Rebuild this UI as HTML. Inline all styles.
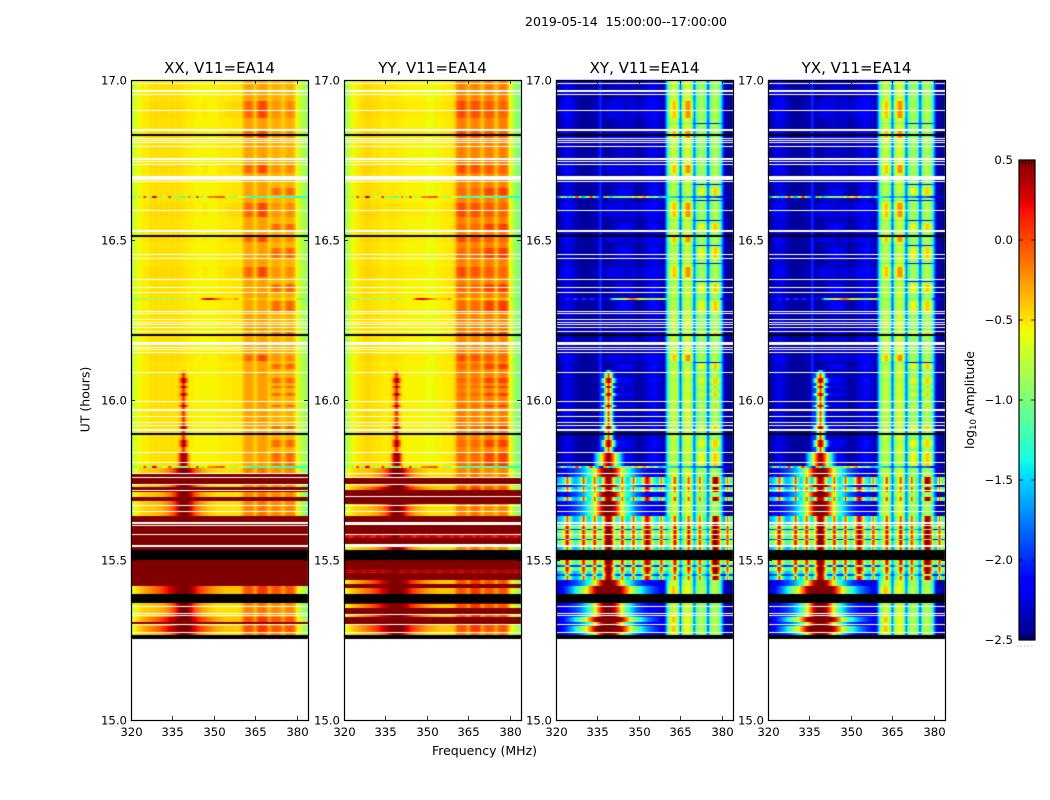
<!DOCTYPE html>
<html lang="en">
<head>
<meta charset="utf-8">
<title>2019-05-14 V11=EA14 dynamic spectra</title>
<style>
html,body{margin:0;padding:0;background:#fff;}
#figure{position:relative;width:1050px;height:800px;background:#fff;overflow:hidden;font-family:"DejaVu Sans","Liberation Sans",sans-serif;}
canvas{position:absolute;display:block;}
#overlay{position:absolute;left:0;top:0;}
#overlay text{font-family:"DejaVu Sans","Liberation Sans",sans-serif;fill:#000;}
</style>
</head>
<body>
<div id="figure">
<canvas id="heatmap-canvas" width="1050" height="800" style="left:0;top:0"></canvas>
<svg id="overlay" width="1050" height="800" xmlns="http://www.w3.org/2000/svg">
<text x="626" y="26" font-size="12.5" text-anchor="middle" xml:space="preserve">2019-05-14  15:00:00--17:00:00</text>
<text x="484.5" y="755" font-size="12.5" text-anchor="middle">Frequency (MHz)</text>
<text x="0" y="0" transform="translate(89.5,399.5) rotate(-90)" font-size="12.5" text-anchor="middle">UT (hours)</text>
<text x="0" y="0" transform="translate(974,400) rotate(-90)" font-size="12.5" text-anchor="middle">log<tspan font-size="8.5" dy="2">10</tspan><tspan dy="-2"> Amplitude</tspan></text>
</svg>
</div>
<script>
/* ---------- data: axes ---------- */
const panelTitles = ["XX, V11=EA14", "YY, V11=EA14", "XY, V11=EA14", "YX, V11=EA14"];
const freqTicks = [320, 335, 350, 365, 380];
const timeTicks = [15.0, 15.5, 16.0, 16.5, 17.0];
const colorTicks = [-2.5, -2.0, -1.5, -1.0, -0.5, 0.0, 0.5];
const freqBins = [320,321,322,323,324,325,326,327,328,329,330,331,332,333,334,335,336,337,338,339,340,341,342,343,344,345,346,347,348,349,350,351,352,353,354,355,356,357,358,359,360,361,362,363,364,365,366,367,368,369,370,371,372,373,374,375,376,377,378,379,380,381,382,383];

/* ---------- data: log10 amplitude spectra, one value per frequency bin ---------- */
const xxQuiet = [
-.8,-.72,-.62,-.57,-.54,-.52,-.54,-.48,-.5,-.47,
-.5,-.47,-.5,-.47,-.5,-.47,-.5,-.47,-.5,-.5,
-.52,-.52,-.52,-.55,-.55,-.55,-.55,-.55,-.55,-.55,
-.55,-.55,-.52,-.52,-.52,-.52,-.52,-.5,-.5,-.5,
-.5,-.33,-.28,-.28,-.32,-.45,-.3,-.28,-.26,-.3,
-.45,-.36,-.32,-.32,-.36,-.43,-.36,-.32,-.32,-.38,
-.62,-.7,-.78,-.88];
const xxBlobA = [
-.8,-.72,-.62,-.57,-.54,-.5,-.52,-.46,-.48,-.45,
-.48,-.45,-.48,-.45,-.48,-.45,-.48,-.45,-.48,-.48,
-.5,-.5,-.5,-.52,-.55,-.55,-.52,-.5,-.55,-.55,
-.55,-.55,-.5,-.5,-.5,-.48,-.46,-.46,-.46,-.46,
-.46,-.2,-.1,-.08,-.2,-.42,-.08,.02,.03,-.08,
-.42,-.28,-.24,-.24,-.3,-.42,-.28,-.2,-.2,-.3,
-.6,-.7,-.78,-.88];
const xxBlobB = [
-.8,-.72,-.62,-.57,-.54,-.52,-.54,-.48,-.5,-.47,
-.5,-.47,-.5,-.47,-.5,-.47,-.5,-.47,-.5,-.5,
-.52,-.52,-.52,-.55,-.55,-.55,-.55,-.55,-.55,-.55,
-.55,-.55,-.52,-.52,-.52,-.52,-.52,-.5,-.5,-.5,
-.5,-.32,-.28,-.28,-.32,-.46,-.3,-.26,-.26,-.3,
-.44,-.2,-.1,-.1,-.2,-.42,-.2,-.08,-.08,-.22,
-.6,-.7,-.78,-.88];
const xxStreak = [
-.9,-1.1,-.6,-.95,-.8,.3,-.9,-1,.45,.3,
-1,-.9,-.5,-.95,.3,-.8,-.95,-.85,-1.1,-1.1,
-1,0,-1,-.9,.3,-1,-.9,-.7,-.25,-.1,
-.2,0,-.1,.1,-.3,-.7,-.9,-.8,-1,-.5,
-.6,-.9,-1.1,-1.2,-1.25,-1.25,-1.2,-1.2,-1.15,-1.1,
-1,-1.1,-1.1,-1.2,-1.2,-1.2,-1.25,-1.3,-1.3,-1.3,
-1.3,-1.3,-1.3,-1.3];
const xxStreakLate = [
-.8,-.9,-.9,-.85,-.85,-.85,-.8,-.85,-.85,-.8,
-.85,-.85,-.8,-.85,-.8,-.8,-.85,-.4,-.8,-.8,
-.8,-.75,-.7,-.65,-.55,-.45,.05,.2,.3,.25,
.1,-.05,-.2,-.3,-.4,-.45,-.4,-.45,-.1,-.5,
-.55,-.35,-.35,-.4,-.45,-.6,-.4,-.35,-.35,-.4,
-.6,-.45,-.4,-.4,-.45,-.6,-.4,-.4,-.4,-.45,
-.8,-.9,-1,-1.1];
const yyQuiet = [
-.95,-.85,-.7,-.6,-.55,-.52,-.5,-.48,-.46,-.46,
-.48,-.5,-.48,-.5,-.52,-.52,-.52,-.5,-.5,-.52,
-.52,-.52,-.55,-.55,-.55,-.55,-.55,-.55,-.55,-.55,
-.58,-.58,-.62,-.55,-.55,-.55,-.52,-.52,-.52,-.5,
-.45,-.22,-.16,-.16,-.22,-.38,-.22,-.18,-.18,-.24,
-.42,-.22,-.16,-.16,-.24,-.42,-.24,-.16,-.16,-.24,
-.6,-.75,-.9,-1];
const yyBlobA = [
-.95,-.85,-.7,-.6,-.55,-.52,-.48,-.46,-.44,-.44,
-.46,-.48,-.46,-.48,-.5,-.5,-.5,-.48,-.48,-.5,
-.5,-.5,-.52,-.52,-.52,-.52,-.52,-.52,-.52,-.52,
-.55,-.55,-.6,-.52,-.52,-.52,-.5,-.5,-.5,-.48,
-.42,-.08,0,.02,-.08,-.34,-.08,-.02,-.02,-.1,
-.36,-.1,-.05,-.05,-.12,-.38,-.15,-.08,-.08,-.15,
-.58,-.72,-.9,-1];
const yyBlobB = [
-.95,-.85,-.7,-.6,-.55,-.52,-.5,-.48,-.46,-.46,
-.48,-.5,-.48,-.5,-.52,-.52,-.52,-.5,-.5,-.52,
-.52,-.52,-.55,-.55,-.55,-.55,-.55,-.55,-.55,-.55,
-.58,-.58,-.62,-.55,-.55,-.55,-.52,-.52,-.52,-.5,
-.45,-.15,-.1,-.1,-.15,-.36,-.15,-.1,-.1,-.15,
-.38,-.05,.03,.03,-.05,-.38,-.05,.05,.05,-.05,
-.58,-.72,-.9,-1];
const parallelFlare = [
-.85,-.7,-.55,-.5,-.45,-.42,-.42,-.4,-.4,-.38,
-.36,-.32,-.28,-.22,-.15,-.05,.1,.3,.5,.5,
.5,.4,.2,0,-.12,-.22,-.3,-.35,-.4,-.42,
-.45,-.48,-.48,-.48,-.48,-.48,-.48,-.48,-.48,-.48,
-.42,-.22,-.18,-.18,-.22,-.4,-.18,-.12,-.12,-.22,
-.4,-.22,-.2,-.2,-.25,-.4,-.22,-.18,-.18,-.25,
-.55,-.7,-.85,-.95];
const parallelFlareBright = [
-.8,-.6,-.48,-.42,-.36,-.3,-.25,-.2,-.15,-.1,
-.05,.02,.1,.18,.28,.35,.42,.5,.5,.5,
.5,.5,.4,.28,.15,.05,-.02,-.08,-.14,-.2,
-.25,-.3,-.32,-.35,-.38,-.4,-.4,-.4,-.4,-.4,
-.34,-.08,-.02,-.02,-.08,-.28,.02,.08,.08,.02,
-.28,-.08,-.02,-.02,-.08,-.28,-.08,-.02,-.02,-.12,
-.45,-.6,-.75,-.85];
const saturated = [
.5,.5,.5,.5,.5,.5,.5,.5,.5,.5,
.5,.5,.5,.5,.5,.5,.5,.5,.5,.5,
.5,.5,.5,.5,.5,.5,.5,.5,.5,.5,
.5,.5,.5,.5,.5,.5,.5,.5,.5,.5,
.5,.5,.5,.5,.5,.5,.5,.5,.5,.5,
.5,.5,.5,.5,.5,.5,.5,.5,.5,.5,
.5,.5,.5,.5];
const redStripe = [
.3,.3,.15,.15,.3,.3,.3,.15,.3,.3,
.15,.15,.3,.3,.15,.3,.3,.3,.5,.5,
.3,.15,.3,.3,.3,.15,.15,.3,.3,.3,
.15,.3,.3,.3,.15,.15,.3,.3,.3,.15,
.3,.3,.15,.15,.3,.3,.3,.15,.3,.3,
.15,.3,.3,.3,.15,.15,.3,.3,.3,.15,
.3,.3,.15,.3];
const xyQuiet = [
-2.45,-2.42,-2.35,-2.25,-2.2,-2.25,-2.3,-2.35,-2.4,-2.42,
-2.42,-2.42,-2.42,-2.4,-2.4,-2.42,-1.95,-2.42,-2.4,-2.4,
-2.4,-2.3,-2.35,-2.3,-2.3,-2.3,-2.35,-2.3,-2.3,-2.4,
-2.4,-2.4,-2.3,-2.3,-2.25,-2.2,-2.2,-2.3,-2.3,-2.42,
-1.6,-.95,-.75,-.72,-.85,-1.85,-.85,-.68,-.68,-.82,
-1.85,-1.05,-.88,-.88,-1,-1.95,-1,-.82,-.82,-1,
-1.6,-2.35,-2.42,-2.45];
const xyBlobA = [
-2.42,-2.38,-2.25,-2.15,-2.1,-2.15,-2.2,-2.32,-2.38,-2.42,
-2.42,-2.42,-2.4,-2.38,-2.32,-2.38,-1.95,-2.38,-2.3,-2.22,
-2.22,-2.22,-2.25,-2.22,-2.25,-2.28,-2.32,-2.25,-2.22,-2.3,
-2.3,-2.3,-2.2,-2.2,-2.15,-2.12,-2.12,-2.2,-2.25,-2.38,
-1.6,-.9,-.5,-.35,-.7,-1.8,-.7,-.3,-.15,-.55,
-1.8,-1.05,-.85,-.85,-1,-1.9,-1,-.8,-.8,-1,
-1.6,-2.35,-2.42,-2.45];
const xyBlobB = [
-2.45,-2.42,-2.35,-2.25,-2.2,-2.25,-2.3,-2.35,-2.4,-2.42,
-2.42,-2.42,-2.42,-2.4,-2.4,-2.42,-1.95,-2.42,-2.4,-2.4,
-2.4,-2.3,-2.3,-2.15,-2.12,-2.12,-2.2,-2.2,-2.3,-2.4,
-2.4,-2.4,-2.3,-2.3,-2.15,-2.1,-2.1,-2.2,-2.3,-2.42,
-1.6,-.95,-.8,-.8,-.9,-1.9,-.9,-.75,-.75,-.9,
-1.9,-.9,-.6,-.55,-.85,-1.9,-.8,-.45,-.4,-.75,
-1.6,-2.35,-2.42,-2.45];
const xyDip = [
-2.45,-2.42,-2.35,-2.25,-2.2,-2.25,-2.3,-2.35,-2.4,-2.42,
-2.42,-2.42,-2.42,-2.4,-2.4,-2.42,-1.95,-2.42,-2.4,-2.4,
-2.4,-2.3,-2.35,-2.3,-2.3,-2.3,-2.35,-2.3,-2.3,-2.4,
-2.4,-2.4,-2.3,-2.3,-2.25,-2.2,-2.2,-2.3,-2.3,-2.42,
-1.6,-1.2,-1.05,-1.05,-1.2,-2,-1.2,-1,-1,-1.2,
-2.1,-2,-2.1,-2.1,-2,-2.2,-2,-2.1,-2.1,-2,
-1.8,-2.35,-2.42,-2.45];
const xyStreak = [
-1.5,-1.8,-1.2,-.2,-1.6,-1.3,-1.5,-.1,.1,-1.4,
-1.6,-1.2,-.2,.2,-1.4,-1.5,-2,-2.1,.1,-1.3,
-1.6,-1.2,-1.1,-.9,-1,-1,-.9,-1.1,-.6,-.3,
-.6,-.5,-.2,-.6,-1,-1.2,-.5,-1.4,-1.6,-1.3,
-1.5,-1.4,-1.5,-1.5,-1.6,-2,-1.5,-1.5,-1.5,-1.6,
-2,-1.6,-1.7,-1.7,-1.8,-2.1,-1.8,-1.8,-1.9,-2,
-2.3,-2.3,-2.1,-2.3];
const xyStreakLate = [
-2.3,-2.2,-2.1,-2.2,-2,-2.1,-2.2,-1.8,-2.2,-2.2,
-1.9,-2.1,-2.2,-1.9,-2.2,-2.2,-1.9,-2.2,-2.2,-2.3,
-1.6,-1.2,-1,-.9,-.8,-.6,-.4,-.2,-.1,-.3,
-.5,-.7,-.8,-.9,-.9,-.9,-.9,-.9,-.3,-1,
-1.2,-1.1,-1,-1,-1.1,-1.9,-1,-.9,-.9,-1,
-1.9,-1.1,-1,-1,-1.1,-2,-1,-1,-1,-1.1,
-2.3,-2.3,-2.1,-2.3];
const xyFlare = [
-2.35,-2.3,-2.2,-2.15,-2.1,-2.05,-2,-1.95,-1.85,-1.75,
-1.6,-1.45,-1.25,-1,-.7,-.3,.1,.4,.5,.5,
.5,.4,.1,-.3,-.7,-1,-1.25,-1.45,-1.6,-1.8,
-1.9,-2,-2.05,-2.1,-2.15,-2.2,-2.2,-2.25,-2.25,-2.3,
-1.6,-.95,-.75,-.72,-.85,-1.85,-.85,-.68,-.68,-.82,
-1.85,-1.05,-.88,-.88,-1,-1.95,-1,-.82,-.82,-1,
-1.6,-2.35,-2.4,-2.45];
const xyFlareBright = [
-2.3,-2.25,-2.15,-2.05,-1.9,-1.75,-1.6,-1.4,-1.2,-1,
-.8,-.6,-.3,0,.3,.5,.5,.5,.5,.5,
.5,.5,.5,.5,.3,0,-.3,-.6,-.85,-1.05,
-1.25,-1.4,-1.55,-1.7,-1.8,-1.9,-2,-2.05,-2.15,-2.25,
-1.6,-.7,-.4,-.4,-.7,-1.8,-.7,-.6,-.6,-.8,
-1.8,-.9,-.8,-.8,-1,-1.9,-.9,-.8,-.8,-1,
-1.6,-2.3,-2.35,-2.4];
const xyCombThin = [
-1.7,-1.6,-1.5,-1.3,.1,-.8,-1.5,-1.6,-1.5,-1.2,
.2,-1.3,-1.5,-1.1,.1,-1.2,-1.5,-.8,.2,.5,
.2,-.8,-1.4,-1.2,.1,-1.3,-1.5,-1.3,.1,-1.2,
-1.4,-1.1,-.2,.4,-.2,-1.1,-1.4,-1.5,0,-1.3,
-1.5,-1.3,-.8,.2,-1,-1.8,-1.2,-.8,.1,-.9,
-1.8,-1.1,.1,-1,-1.2,-1.8,-.8,.4,.5,-.2,
-1.5,-1.6,-.1,-1.2];
const xyCombWide = [
-1.3,-1.1,-.9,-.6,.4,-.5,-1,-1.2,-1.1,-.6,
.3,-.7,-1,-.7,.3,-.7,-1,-.6,.4,.5,
.4,-.6,-1,-.7,.3,-.7,-1.2,-.9,.2,-.8,
-1.2,-.8,0,.5,.1,-.8,-1.2,-1,.2,-.6,
-1.2,-1,-.6,.4,-.6,-1.6,-1,-.6,.4,-.6,
-1.6,-.9,.2,-.8,-1,-1.7,-.4,.5,.5,0,
-1.1,-1,.1,-.9];
const xyCombDark = [
-2,-2,-1.9,-1.8,-.8,-1.7,-2,-2,-1.9,-1.8,
-.7,-1.8,-2,-1.8,-.7,-1.8,-2,-1.3,.1,.5,
.1,-1.3,-2,-1.9,-.9,-1.9,-2.1,-2,-.9,-1.9,
-2,-1.8,-1,-.4,-1,-1.8,-2,-2,-1,-1.9,
-2,-1.4,-1.2,-.7,-1.3,-2.1,-1.4,-1.2,-.8,-1.4,
-2.1,-1.5,-.9,-1.5,-1.6,-2.1,-1.3,-.5,-.4,-1.2,
-2.2,-2.2,-1.2,-2];

/* ---------- data: spike profile around the 339 MHz tone ---------- */
const spikeFreqs = [334, 335, 336, 337, 338, 339, 340, 341, 342, 343, 344];
const parallelToneLevels = [-9, -9, -9, -9, -.35, .15, -.4, -9, -9, -9, -9];
const parallelToneStrong = [-9, -9, -9, -9, 0, .5, .05, -9, -9, -9, -9];
const parallelToneFaint = [-9, -9, -9, -9, -9, -.3, -9, -9, -9, -9, -9];
const parallelToneGlow = [-9, -9, -9, -.35, .25, .5, .3, -.35, -9, -9, -9];
const crossToneLevels = [-9, -9, -9, -2, -1, .1, -1, -2, -9, -9, -9];
const crossToneStrong = [-9, -9, -2, -1.2, -.1, .5, -.1, -1.2, -2, -9, -9];
const crossToneFaint = [-9, -9, -9, -9, -1.9, -1.3, -1.9, -9, -9, -9, -9];
const crossToneGlow = [-1.8, -1.4, -.9, -.3, .2, .5, .2, -.3, -.9, -1.4, -1.8];

/* ---------- data: time bands from 17.0 h downward, "kind + row count" (w = flagged, k = no data) ---------- */
const sharedUpperRuns = "q3 w1 q6 w2 q2 w1 q6 a9 w1 a7 q5 n1 q5 w2 a3 k2 a2 w1 q1 w1 q1 w1 q3 w1 q11 w2 q1 w1 q2 w1 a8 q3 w4 q1 w1 q2 n1 q3 b7 q1 s2 q1 q1 n1 q2 a7 w1 a6 q3 n1 q3 b6 w2 q3 k2 a5 q3 n1 q2 b6 w1 b3 w1 q4 n1 q3 a10 q2 w1 q1 n1 q2 b3 w1 b4 w1 q4 q1 S2 q1 b10 w1 q1 w1 q5 w1 q2 w1 q1 w1 q2 w1 q3 w1 b2 k2 q6 w3 q2 w1 q1 w1 q2 w1 q2 a6 q1 n1 q1 b5 q1 u2 w1 t5 T5 t3 T2 t5 T3 t5 w1 t3 T2 t2 w2 t5 w1 t5 w1 t2 w1 T3 w2 t2 k2 t5 T7 t5 w1 G9 w1 G3 s2";
const xxLowerRuns = "f5 w1 r3 w1 r6 w1 f2 r3 w1 r1 f5 r4 f4 w1 f5 w1 f4 r6 w2 r1 w1 r8 w1 r10 w2 r3 k10 r26 F8 k9 f3 w1 f6 w1 f1 w1 f1 F5 r2 w1 f1 F6 w1 f2 k4";
const yyLowerRuns = "f5 w1 f3 w1 r6 w1 f2 F3 r6 w1 r7 f1 w1 f5 w1 f4 r6 w3 r1 r8 w1 R3 r6 w3 f3 k10 r10 R1 r1 R1 r7 F4 r4 F6 k9 r1 F4 r6 w1 F2 r7 w1 F1 F6 w1 f2 k4";
const xyLowerRuns = "f5 w1 f3 c7 w1 f2 c3 w1 c1 f5 c4 f4 w1 f5 w1 f4 c6 w2 c1 w1 d3 e1 d4 w1 d4 e1 d5 w2 c3 k10 d5 e2 d4 c3 e2 c4 f6 F8 k9 f3 w1 f6 w1 f1 w1 f1 F5 f2 w1 f1 F6 w1 f2 k4";

/* ---------- axis functions ---------- */
const FREQ_MIN = 320, FREQ_MAX = 384, TIME_MIN = 15, TIME_MAX = 17;
const ROW_HOURS = 1 / 320;
const PLOT_TOP = 80, PLOT_BOTTOM = 720, PLOT_WIDTH = 177;
const panelLefts = [131, 344, 556, 768];

function xScale(panelIndex, freq) {
  return panelLefts[panelIndex] + (freq - FREQ_MIN) / (FREQ_MAX - FREQ_MIN) * PLOT_WIDTH;
}
function xInvert(pixelOffset) {
  return FREQ_MIN + pixelOffset / PLOT_WIDTH * (FREQ_MAX - FREQ_MIN);
}
function yScale(hours) {
  return PLOT_TOP + (TIME_MAX - hours) / (TIME_MAX - TIME_MIN) * (PLOT_BOTTOM - PLOT_TOP);
}
function clamp01(x) { return Math.max(0, Math.min(1, x)); }
function jetRgb(value) {
  const t = clamp01((value + 2.5) / 3);
  const ramp = (pts) => {
    for (let i = 1; i < pts.length; i++) {
      if (t <= pts[i][0]) {
        const p = pts[i - 1], q = pts[i];
        return p[1] + (q[1] - p[1]) * (t - p[0]) / (q[0] - p[0]);
      }
    }
    return pts[pts.length - 1][1];
  };
  return [
    Math.round(ramp([[0, 0], [.35, 0], [.66, 1], [.89, 1], [1, .5]]) * 255),
    Math.round(ramp([[0, 0], [.125, 0], [.375, 1], [.64, 1], [.91, 0], [1, 0]]) * 255),
    Math.round(ramp([[0, .5], [.11, 1], [.34, 1], [.65, 0], [1, 0]]) * 255)
  ];
}
function parseRuns(text) {
  const rows = [];
  text.trim().split(/\s+/).forEach(function (tok) {
    const kind = tok.charAt(0), count = parseInt(tok.slice(1), 10);
    for (let i = 0; i < count; i++) rows.push(kind);
  });
  return rows;
}
function kindTable(quiet, blobA, blobB, dip, streak, streakLate, flare, flareBright, faint, tone, strong, glow, extra) {
  const table = {
    q: [quiet, null], a: [blobA, null], b: [blobB, null], n: [dip, null],
    s: [streak, null], S: [streakLate, null],
    f: [flare, null], F: [flareBright, null],
    u: [quiet, faint], t: [quiet, tone], T: [blobB, strong], G: [blobB, glow]
  };
  Object.keys(extra).forEach(function (k) { table[k] = [extra[k], null]; });
  return table;
}

const parallelExtra = { r: saturated, R: redStripe };
const crossExtra = { c: xyCombThin, d: xyCombWide, e: xyCombDark };
const panelKinds = [
  kindTable(xxQuiet, xxBlobA, xxBlobB, xxQuiet, xxStreak, xxStreakLate, parallelFlare, parallelFlareBright, parallelToneFaint, parallelToneLevels, parallelToneStrong, parallelToneGlow, parallelExtra),
  kindTable(yyQuiet, yyBlobA, yyBlobB, yyQuiet, xxStreak, xxStreakLate, parallelFlare, parallelFlareBright, parallelToneFaint, parallelToneLevels, parallelToneStrong, parallelToneGlow, parallelExtra),
  kindTable(xyQuiet, xyBlobA, xyBlobB, xyDip, xyStreak, xyStreakLate, xyFlare, xyFlareBright, crossToneFaint, crossToneLevels, crossToneStrong, crossToneGlow, crossExtra),
  kindTable(xyQuiet, xyBlobA, xyBlobB, xyDip, xyStreak, xyStreakLate, xyFlare, xyFlareBright, crossToneFaint, crossToneLevels, crossToneStrong, crossToneGlow, crossExtra)
];
const panelLowerRuns = [xxLowerRuns, yyLowerRuns, xyLowerRuns, xyLowerRuns];

/* ---------- heatmap cells: each row is resampled linearly between frequency bins ---------- */
const ctx = document.getElementById("heatmap-canvas").getContext("2d");
function drawPanel(panelIndex) {
  const rows = parseRuns(sharedUpperRuns + " " + panelLowerRuns[panelIndex]);
  const kinds = panelKinds[panelIndex];
  const plotHeight = PLOT_BOTTOM - PLOT_TOP;
  const image = ctx.createImageData(PLOT_WIDTH, plotHeight);
  image.data.fill(255);
  rows.forEach(function (kind, rowIndex) {
    if (kind === "w") return;
    const hours = TIME_MAX - rowIndex * ROW_HOURS;
    const y0 = Math.round(yScale(hours)) - PLOT_TOP;
    const y1 = Math.round(yScale(hours - ROW_HOURS)) - PLOT_TOP;
    const rowValues = [];
    if (kind !== "k") {
      const spec = kinds[kind];
      freqBins.forEach(function (freq, col) {
        let value = spec[0][col];
        if (spec[1]) {
          const s = spikeFreqs.indexOf(freq);
          if (s >= 0) value = Math.max(value, spec[1][s]);
        }
        rowValues.push(value);
      });
    }
    for (let y = y0; y < y1; y++) {
      for (let px = 0; px < PLOT_WIDTH; px++) {
        let rgb = [0, 0, 0];
        if (kind !== "k") {
          const pos = Math.max(0, Math.min(freqBins.length - 1, xInvert(px + 0.5) - freqBins[0]));
          const i = Math.floor(pos), j = Math.min(freqBins.length - 1, i + 1);
          rgb = jetRgb(rowValues[i] + (rowValues[j] - rowValues[i]) * (pos - i));
        }
        const o = (y * PLOT_WIDTH + px) * 4;
        image.data[o] = rgb[0];
        image.data[o + 1] = rgb[1];
        image.data[o + 2] = rgb[2];
        image.data[o + 3] = 255;
      }
    }
  });
  ctx.putImageData(image, panelLefts[panelIndex], PLOT_TOP);
}
panelTitles.forEach(function (_, i) { drawPanel(i); });

/* ---------- colorbar ---------- */
const CBAR_LEFT = 1019, CBAR_RIGHT = 1035, CBAR_TOP = 160, CBAR_BOTTOM = 640;
const COLOR_MIN = -2.5, COLOR_MAX = 0.5;
function colorScale(value) {
  return CBAR_BOTTOM - (value - COLOR_MIN) / (COLOR_MAX - COLOR_MIN) * (CBAR_BOTTOM - CBAR_TOP);
}
for (let y = CBAR_TOP; y < CBAR_BOTTOM; y++) {
  const v = COLOR_MIN + (CBAR_BOTTOM - y - 0.5) / (CBAR_BOTTOM - CBAR_TOP) * (COLOR_MAX - COLOR_MIN);
  ctx.fillStyle = "rgb(" + jetRgb(v).join(",") + ")";
  ctx.fillRect(CBAR_LEFT, y, CBAR_RIGHT - CBAR_LEFT, 1);
}

/* ---------- axes overlay ---------- */
const svg = document.getElementById("overlay");
const NS = "http://www.w3.org/2000/svg";
function makeLine(x1, y1, x2, y2, width) {
  const el = document.createElementNS(NS, "line");
  el.setAttribute("x1", x1);
  el.setAttribute("y1", y1);
  el.setAttribute("x2", x2);
  el.setAttribute("y2", y2);
  el.setAttribute("stroke", "#000");
  el.setAttribute("stroke-width", width);
  svg.appendChild(el);
  return el;
}
function makeText(x, y, size, anchor, content) {
  const el = document.createElementNS(NS, "text");
  el.setAttribute("x", x);
  el.setAttribute("y", y);
  el.setAttribute("font-size", size);
  el.setAttribute("text-anchor", anchor);
  el.textContent = content;
  svg.appendChild(el);
  return el;
}
function makeFrame(x, y, w, h) {
  const el = document.createElementNS(NS, "rect");
  el.setAttribute("x", x);
  el.setAttribute("y", y);
  el.setAttribute("width", w);
  el.setAttribute("height", h);
  el.setAttribute("fill", "none");
  el.setAttribute("stroke", "#000");
  el.setAttribute("stroke-width", 1.2);
  svg.appendChild(el);
  return el;
}

const TICK_FONT = 11.7, TICK_LEN = 4;
panelTitles.forEach(function (title, i) {
  const left = panelLefts[i], right = left + PLOT_WIDTH;
  const frame = makeFrame(left + 0.5, PLOT_TOP + 0.5, PLOT_WIDTH, PLOT_BOTTOM - PLOT_TOP);
  
  

  const titleEl = makeText(left + PLOT_WIDTH / 2, 73, 15, "middle", title);
  
  

  freqTicks.forEach(function (freq) {
    const x = Math.round(xScale(i, freq)) + 0.5;
    const lower = makeLine(x, PLOT_BOTTOM, x, PLOT_BOTTOM - TICK_LEN, 0.8);
    
    
    const upper = makeLine(x, PLOT_TOP, x, PLOT_TOP + TICK_LEN, 0.8);
    
    
    const label = makeText(x, 736, TICK_FONT, "middle", String(freq));
    
    
  });

  timeTicks.forEach(function (hours) {
    const y = Math.round(yScale(hours)) + 0.5;
    const leftTick = makeLine(left, y, left + TICK_LEN, y, 0.8);
    
    
    const rightTick = makeLine(right, y, right - TICK_LEN, y, 0.8);
    
    
    const label = makeText(left - 4, y + 4, TICK_FONT, "end", hours.toFixed(1));
    
    
  });
});

const cbarFrame = makeFrame(CBAR_LEFT, CBAR_TOP, CBAR_RIGHT - CBAR_LEFT, CBAR_BOTTOM - CBAR_TOP);



colorTicks.forEach(function (value) {
  const y = Math.round(colorScale(value));
  const tickL = makeLine(CBAR_LEFT, y, CBAR_LEFT + TICK_LEN, y, 0.8);
  
  
  const tickR = makeLine(CBAR_RIGHT, y, CBAR_RIGHT - TICK_LEN, y, 0.8);
  
  
  const text = value.toFixed(1).replace("-", "\u2212");
  const label = makeText(1013, y + 4, TICK_FONT, "end", text);
  
  
});

const cbarHatchFractions = [0, 0.2, 0.4, 0.6, 0.8, 1];
cbarHatchFractions.forEach(function (fraction) {
  const x = CBAR_LEFT + fraction * (CBAR_RIGHT - CBAR_LEFT);
  const top = makeLine(x, CBAR_TOP, x, CBAR_TOP + TICK_LEN, 0.7);
  
  
  const bottom = makeLine(x, CBAR_BOTTOM, x, CBAR_BOTTOM - TICK_LEN, 0.7);
  
  
});
const cbarDots = makeLine(1017, 646, 1035, 646, 1);
cbarDots.setAttribute("stroke", "#999");
cbarDots.setAttribute("stroke-dasharray", "1 2.6");


</script>
</body>
</html>
